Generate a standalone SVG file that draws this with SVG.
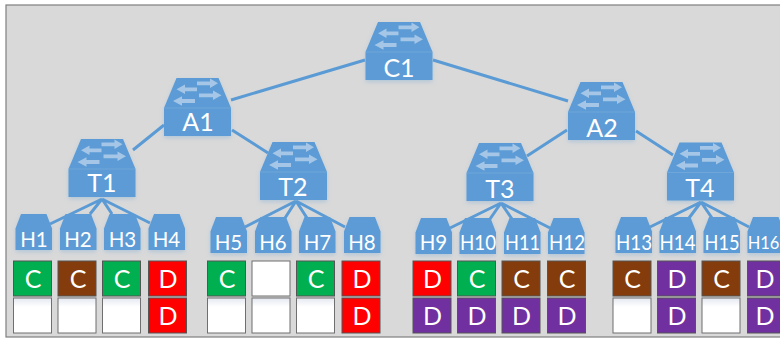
<svg xmlns="http://www.w3.org/2000/svg" width="780" height="339" viewBox="0 0 780 339">
<style>
.sw{font:25px Lato,"Liberation Sans",sans-serif;fill:#fff;text-anchor:middle}
.ho{font:20.500px Lato,"Liberation Sans",sans-serif;fill:#fff;text-anchor:middle}
.bt{font:25px Lato,"Liberation Sans",sans-serif;fill:#fff;text-anchor:middle}
.l{stroke:#5b9bd5;fill:none}
.c{stroke-width:3}
.e{stroke-width:3}
.box{stroke:#555;stroke-width:1}
.w{fill:#fff;stroke:#6f6f6f}
.g{fill:#00b050}.b{fill:#843c0c}.r{fill:#ff0000}.p{fill:#7030a0}
</style>
<defs>
<filter id="sh" x="-20%" y="-20%" width="140%" height="150%"><feDropShadow dx="0" dy="2" stdDeviation="2" flood-color="#5b9bd5" flood-opacity="0.3"/></filter>
<linearGradient id="wg" x1="0" y1="0" x2="0" y2="1"><stop offset="0" stop-color="#e4e8f0"/><stop offset="0.25" stop-color="#fff"/></linearGradient>
<g id="switch" filter="url(#sh)">
<path d="M12.500 0H54.500L67 30V58H0V30Z" fill="#5b9bd5"/>
<path d="M0 30H67" stroke="#7fb0de" stroke-width="0.6"/>
<g fill="#a5c6e6">
<path d="M33 3.400H46V0.500L54 5.300L46 10.100V7.200H33Z"/>
<path d="M33 9.400H21V6.500L12.500 11.300L21 16.100V13.200H33Z"/>
<path d="M35 15.400H49V12.500L57.500 17.300L49 22.100V19.200H35Z"/>
<path d="M31 21.100H18V18.200L9 23L18 27.800V24.900H31Z"/>
</g>
</g>
<path id="host" d="M5.500 0H31L36.500 14.500V36H0V14.500Z" fill="#5b9bd5" filter="url(#sh)"/>
<rect id="cell" width="38" height="35"/>
</defs>
<rect x="6" y="5" width="780" height="332" fill="#d9d9d9" stroke="#7f7f7f" stroke-width="1.2"/>
<g id="connectors">
<path class="l c" d="M365 60L231 100M433 60L568 101M164 125L133 150M232 130L268 153M567 130L527 156M636 131L673 155"/>
<path class="l e" d="M102 199L50 224M102 199L90 214M102 199L112 214M102 199L150 223"/>
<path class="l e" d="M296 201L245 227M296 201L285 218M296 201L307 218M296 201L345 227"/>
<path class="l e" d="M501 203L450 228M501 203L490 219M501 203L512 219M501 203L550 228"/>
<path class="l e" d="M701 202L650 227M701 202L689 218M701 202L712 218M701 202L749 227"/>
</g>
<g id="C1"><use href="#switch" x="365.500" y="22"/><text class="sw" x="399" y="77">C1</text></g>
<g id="A1"><use href="#switch" x="164" y="78"/><text class="sw" x="198" y="131">A1</text></g>
<g id="A2"><use href="#switch" x="568" y="82"/><text class="sw" x="602" y="137">A2</text></g>
<g id="T1"><use href="#switch" x="68.500" y="139"/><text class="sw" x="102" y="192">T1</text></g>
<g id="T2"><use href="#switch" x="260" y="142"/><text class="sw" x="293" y="196">T2</text></g>
<g id="T3"><use href="#switch" x="466.500" y="143"/><text class="sw" x="500" y="198">T3</text></g>
<g id="T4"><use href="#switch" x="667" y="142.500"/><text class="sw" x="700" y="197">T4</text></g>
<g id="H1"><use href="#host" x="15.500" y="214"/><text class="ho" x="34" y="247">H1</text></g>
<g id="H2"><use href="#host" x="60" y="214"/><text class="ho" x="78" y="247">H2</text></g>
<g id="H3"><use href="#host" x="104" y="214"/><text class="ho" x="122.500" y="247">H3</text></g>
<g id="H4"><use href="#host" x="148.500" y="214"/><text class="ho" x="166.500" y="247">H4</text></g>
<g id="H5"><use href="#host" x="210.500" y="217"/><text class="ho" x="228.500" y="250">H5</text></g>
<g id="H6"><use href="#host" x="255" y="217"/><text class="ho" x="273" y="250">H6</text></g>
<g id="H7"><use href="#host" x="299" y="217"/><text class="ho" x="317.500" y="250">H7</text></g>
<g id="H8"><use href="#host" x="344" y="217"/><text class="ho" x="362" y="250">H8</text></g>
<g id="H9"><use href="#host" x="415.500" y="218"/><text class="ho" x="433.500" y="250">H9</text></g>
<g id="H10"><use href="#host" x="459.500" y="218"/><text class="ho" x="478" y="250" textLength="36" lengthAdjust="spacingAndGlyphs">H10</text></g>
<g id="H11"><use href="#host" x="504" y="218"/><text class="ho" x="522.500" y="250" textLength="35" lengthAdjust="spacingAndGlyphs">H11</text></g>
<g id="H12"><use href="#host" x="548" y="218"/><text class="ho" x="567" y="250" textLength="36" lengthAdjust="spacingAndGlyphs">H12</text></g>
<g id="H13"><use href="#host" x="615.500" y="217"/><text class="ho" x="634" y="250" textLength="36" lengthAdjust="spacingAndGlyphs">H13</text></g>
<g id="H14"><use href="#host" x="659.500" y="217"/><text class="ho" x="677.500" y="250" textLength="36" lengthAdjust="spacingAndGlyphs">H14</text></g>
<g id="H15"><use href="#host" x="703.500" y="217"/><text class="ho" x="722" y="250" textLength="35" lengthAdjust="spacingAndGlyphs">H15</text></g>
<g id="H16"><use href="#host" x="747.500" y="217"/><text class="ho" x="763.500" y="249" style="font-size:16.500px">H16</text></g>
<g id="cells">
<g><use href="#cell" class="box g" x="13.500" y="261"/><text class="bt" x="33" y="288">C</text><use href="#cell" class="box w" x="13.500" y="298" style="fill:url(#wg)"/></g>
<g><use href="#cell" class="box b" x="58" y="261"/><text class="bt" x="78" y="288">C</text><use href="#cell" class="box w" x="58" y="298" style="fill:url(#wg)"/></g>
<g><use href="#cell" class="box g" x="102.500" y="261"/><text class="bt" x="122" y="288">C</text><use href="#cell" class="box w" x="102.500" y="298" style="fill:url(#wg)"/></g>
<g><use href="#cell" class="box r" x="148.500" y="261"/><text class="bt" x="168" y="288">D</text><use href="#cell" class="box r" x="148.500" y="298"/><text class="bt" x="168" y="325">D</text></g>
<g><use href="#cell" class="box g" x="207.500" y="261"/><text class="bt" x="227" y="288">C</text><use href="#cell" class="box w" x="207.500" y="298" style="fill:url(#wg)"/></g>
<g><use href="#cell" class="box w" x="252" y="261"/><use href="#cell" class="box w" x="252" y="298" style="fill:url(#wg)"/></g>
<g><use href="#cell" class="box g" x="296.500" y="261"/><text class="bt" x="316" y="288">C</text><use href="#cell" class="box w" x="296.500" y="298" style="fill:url(#wg)"/></g>
<g><use href="#cell" class="box r" x="342" y="261"/><text class="bt" x="362" y="288">D</text><use href="#cell" class="box r" x="342" y="298"/><text class="bt" x="362" y="325">D</text></g>
<g><use href="#cell" class="box r" x="413" y="261"/><text class="bt" x="432.500" y="288">D</text><use href="#cell" class="box p" x="413" y="298"/><text class="bt" x="432.500" y="325">D</text></g>
<g><use href="#cell" class="box g" x="457.500" y="261"/><text class="bt" x="477" y="288">C</text><use href="#cell" class="box p" x="457.500" y="298"/><text class="bt" x="477" y="325">D</text></g>
<g><use href="#cell" class="box b" x="502" y="261"/><text class="bt" x="521.500" y="288">C</text><use href="#cell" class="box p" x="502" y="298"/><text class="bt" x="521.500" y="325">D</text></g>
<g><use href="#cell" class="box b" x="547.500" y="261"/><text class="bt" x="567" y="288">C</text><use href="#cell" class="box p" x="547.500" y="298"/><text class="bt" x="567" y="325">D</text></g>
<g><use href="#cell" class="box b" x="613" y="261"/><text class="bt" x="632.500" y="288">C</text><use href="#cell" class="box w" x="613" y="298" style="fill:url(#wg)"/></g>
<g><use href="#cell" class="box p" x="657.500" y="261"/><text class="bt" x="677" y="288">D</text><use href="#cell" class="box p" x="657.500" y="298"/><text class="bt" x="677" y="325">D</text></g>
<g><use href="#cell" class="box b" x="702" y="261"/><text class="bt" x="721.500" y="288">C</text><use href="#cell" class="box w" x="702" y="298" style="fill:url(#wg)"/></g>
<g><use href="#cell" class="box p" x="747.500" y="261"/><text class="bt" x="765" y="288">D</text><use href="#cell" class="box p" x="747.500" y="298"/><text class="bt" x="765" y="325">D</text></g>
</g>
</svg>
